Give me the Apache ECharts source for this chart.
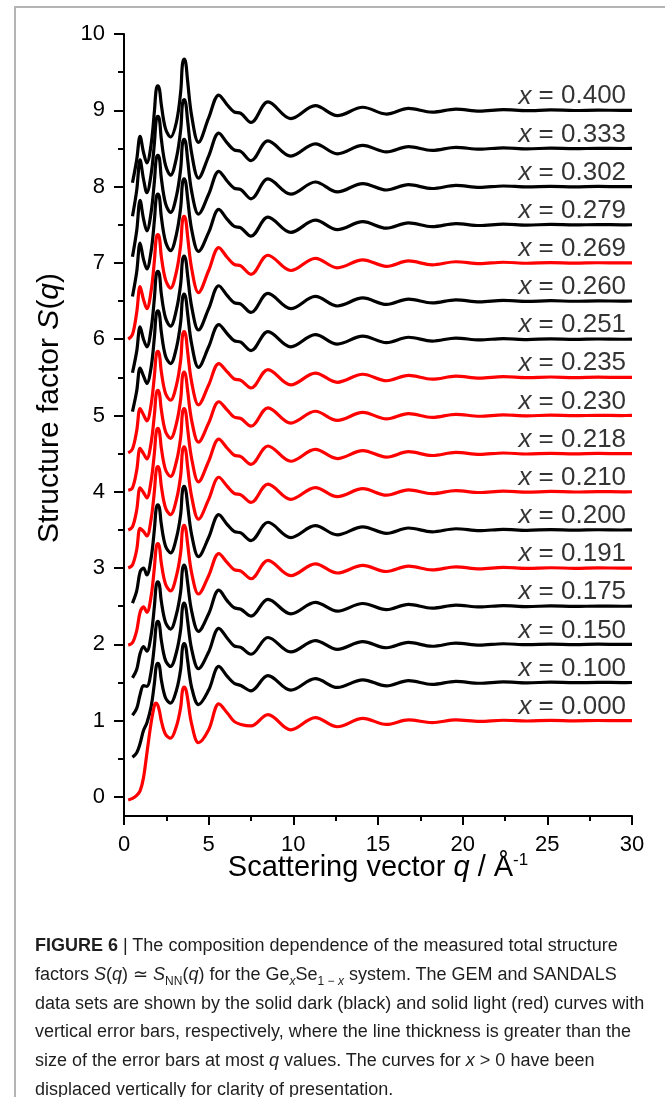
<!DOCTYPE html>
<html>
<head>
<meta charset="utf-8">
<script src="https://cdn.jsdelivr.net/npm/echarts@6/dist/echarts.min.js"></script>
<style>
html, body { margin: 0; padding: 0; background: #fff; }
#wrap { position: relative; width: 665px; height: 1097px; overflow: hidden; }
#frame { position: absolute; left: 14px; top: 6px; width: 700px; height: 1200px; border-left: 2px solid #b4b4b4; border-top: 2px solid #b4b4b4; }
#chart { position: absolute; left: 0; top: 0; width: 665px; height: 1097px; }
#caption { position: absolute; left: 35px; top: 931px; font-family: 'Liberation Sans', Arial, sans-serif; font-size: 18px; color: #1e1e1e; line-height: 28.8px; white-space: nowrap; }
#caption sub { font-size: 12px; line-height: 0; }
</style>
</head>
<body>
<div id="wrap">
  <div id="frame"></div>
  <div id="chart"></div>
  <div id="caption">
    <div><b>FIGURE 6</b> | The composition dependence of the measured total structure</div>
    <div>factors <i>S</i>(<i>q</i>) &#8771; <i>S</i><sub>NN</sub>(<i>q</i>) for the Ge<sub><i>x</i></sub>Se<sub>1 &#8722; <i>x</i></sub> system. The GEM and SANDALS</div>
    <div>data sets are shown by the solid dark (black) and solid light (red) curves with</div>
    <div>vertical error bars, respectively, where the line thickness is greater than the</div>
    <div>size of the error bars at most <i>q</i> values. The curves for <i>x</i> &gt; 0 have been</div>
    <div>displaced vertically for clarity of presentation.</div>
  </div>
</div>
<script>
// scattering vector grid (1/Å) shared by all curves
var q = [0.25, 0.5, 0.75, 0.95, 1.15, 1.35, 1.6, 1.8, 1.9, 2.0, 2.1, 2.2, 2.45, 2.75, 3.1, 3.35, 3.45, 3.55, 3.65, 3.75,
         4.0, 4.4, 5.0, 5.6, 6.1, 6.5, 6.9, 7.5, 8.5, 9.85, 11.3, 12.6, 14.1, 15.5, 16.8, 18.2, 19.6, 21.0, 22.4, 23.8,
         25.2, 26.6, 28.0, 29.4, 30.0];

// composition labels, top to bottom
var compositions = ['0.400', '0.333', '0.302', '0.279', '0.269', '0.260', '0.251', '0.235', '0.230',
                    '0.218', '0.210', '0.200', '0.191', '0.175', '0.150', '0.100', '0.000'];
// vertical displacement of each curve
var offsets = [8, 7.5, 7, 6.5, 6, 5.5, 5, 4.5, 4, 3.5, 3, 2.5, 2, 1.5, 1, 0.5, 0];
// GEM (dark) or SANDALS (light) data set
var dataSet = ['GEM', 'GEM', 'GEM', 'GEM', 'SANDALS', 'GEM', 'GEM', 'SANDALS', 'SANDALS',
               'SANDALS', 'SANDALS', 'GEM', 'SANDALS', 'GEM', 'GEM', 'GEM', 'SANDALS'];

// S(q) for each composition (before displacement)
var s400 = [null, 0.05, 0.35, 0.66, 0.45, 0.31, 0.55, 1.0, 1.27, 1.32, 1.27, 1.08, 0.76, 0.65, 0.85, 1.25, 1.6, 1.67, 1.62, 1.4, 0.92, 0.58, 0.9, 1.2, 1.07, 0.98, 0.96, 0.84, 1.11, 0.89, 1.06, 0.93, 1.04, 0.95, 1.025, 0.975, 1.015, 0.988, 1.008, 0.995, 1.005, 0.997, 1.002, 0.999, 1.0];
var s333 = [null, 0.11, 0.45, 0.85, 0.6, 0.42, 0.66, 1.08, 1.37, 1.42, 1.37, 1.13, 0.78, 0.65, 0.88, 1.25, 1.58, 1.64, 1.59, 1.38, 0.93, 0.61, 0.9, 1.2, 1.07, 0.98, 0.96, 0.84, 1.1, 0.9, 1.06, 0.93, 1.04, 0.955, 1.025, 0.975, 1.015, 0.99, 1.008, 0.995, 1.004, 0.997, 1.002, 0.999, 1.0];
var s302 = [null, 0.08, 0.42, 0.82, 0.58, 0.42, 0.66, 1.08, 1.36, 1.41, 1.36, 1.12, 0.78, 0.66, 0.88, 1.24, 1.56, 1.62, 1.57, 1.37, 0.93, 0.64, 0.9, 1.2, 1.07, 0.98, 0.96, 0.84, 1.1, 0.9, 1.06, 0.93, 1.04, 0.955, 1.025, 0.975, 1.015, 0.99, 1.008, 0.995, 1.004, 0.997, 1.002, 0.999, 1.0];
var s279 = [null, 0.06, 0.38, 0.76, 0.55, 0.42, 0.65, 1.07, 1.35, 1.40, 1.35, 1.11, 0.78, 0.66, 0.88, 1.23, 1.54, 1.60, 1.55, 1.36, 0.93, 0.65, 0.9, 1.2, 1.07, 0.98, 0.96, 0.85, 1.1, 0.9, 1.06, 0.935, 1.04, 0.955, 1.025, 0.975, 1.015, 0.99, 1.008, 0.995, 1.004, 0.997, 1.002, 0.999, 1.0];
var s269 = [0.0, 0.06, 0.35, 0.69, 0.52, 0.4, 0.63, 1.04, 1.32, 1.37, 1.32, 1.09, 0.78, 0.67, 0.89, 1.24, 1.55, 1.61, 1.56, 1.36, 0.92, 0.61, 0.9, 1.2, 1.07, 0.98, 0.96, 0.85, 1.1, 0.9, 1.06, 0.935, 1.04, 0.955, 1.025, 0.975, 1.015, 0.99, 1.008, 0.995, 1.004, 0.997, 1.002, 0.999, 1.0];
var s260 = [null, 0.06, 0.34, 0.66, 0.5, 0.4, 0.63, 1.05, 1.34, 1.39, 1.34, 1.1, 0.78, 0.67, 0.89, 1.23, 1.53, 1.59, 1.54, 1.35, 0.92, 0.62, 0.9, 1.2, 1.07, 0.98, 0.96, 0.85, 1.1, 0.9, 1.06, 0.935, 1.04, 0.955, 1.025, 0.975, 1.015, 0.99, 1.008, 0.995, 1.004, 0.997, 1.002, 0.999, 1.0];
var s251 = [null, 0.05, 0.32, 0.62, 0.52, 0.42, 0.63, 1.04, 1.32, 1.37, 1.32, 1.1, 0.78, 0.68, 0.89, 1.23, 1.53, 1.59, 1.54, 1.35, 0.93, 0.63, 0.9, 1.19, 1.07, 0.98, 0.96, 0.85, 1.1, 0.9, 1.06, 0.935, 1.04, 0.955, 1.025, 0.975, 1.015, 0.99, 1.008, 0.995, 1.004, 0.997, 1.002, 0.999, 1.0];
var s235 = [0.01, 0.06, 0.3, 0.59, 0.51, 0.43, 0.64, 1.03, 1.29, 1.34, 1.29, 1.08, 0.79, 0.7, 0.9, 1.23, 1.54, 1.6, 1.55, 1.35, 0.93, 0.64, 0.9, 1.18, 1.07, 0.98, 0.96, 0.86, 1.1, 0.9, 1.055, 0.935, 1.04, 0.955, 1.025, 0.975, 1.015, 0.99, 1.008, 0.995, 1.004, 0.997, 1.002, 0.999, 1.0];
var s230 = [0.02, 0.05, 0.28, 0.57, 0.5, 0.43, 0.64, 1.02, 1.28, 1.33, 1.28, 1.08, 0.79, 0.7, 0.9, 1.22, 1.51, 1.57, 1.52, 1.34, 0.93, 0.65, 0.9, 1.18, 1.07, 0.98, 0.96, 0.86, 1.1, 0.9, 1.055, 0.935, 1.04, 0.955, 1.025, 0.975, 1.015, 0.99, 1.008, 0.995, 1.004, 0.997, 1.002, 0.999, 1.0];
var s218 = [0.0, 0.04, 0.26, 0.55, 0.49, 0.42, 0.64, 1.02, 1.28, 1.33, 1.28, 1.08, 0.79, 0.7, 0.9, 1.22, 1.53, 1.59, 1.54, 1.34, 0.93, 0.63, 0.9, 1.19, 1.07, 0.98, 0.96, 0.86, 1.1, 0.9, 1.055, 0.935, 1.04, 0.955, 1.025, 0.975, 1.015, 0.99, 1.008, 0.995, 1.004, 0.997, 1.002, 0.999, 1.0];
var s210 = [0.0, 0.04, 0.24, 0.52, 0.48, 0.42, 0.64, 1.02, 1.28, 1.33, 1.28, 1.08, 0.79, 0.7, 0.9, 1.22, 1.53, 1.59, 1.54, 1.34, 0.93, 0.64, 0.9, 1.19, 1.07, 0.98, 0.96, 0.86, 1.1, 0.9, 1.055, 0.935, 1.04, 0.955, 1.025, 0.975, 1.015, 0.99, 1.008, 0.995, 1.004, 0.997, 1.002, 0.999, 1.0];
var s200 = [null, 0.04, 0.2, 0.45, 0.5, 0.41, 0.63, 1.02, 1.28, 1.33, 1.28, 1.08, 0.79, 0.7, 0.9, 1.21, 1.51, 1.57, 1.52, 1.34, 0.93, 0.65, 0.9, 1.2, 1.07, 0.98, 0.96, 0.86, 1.1, 0.9, 1.055, 0.935, 1.04, 0.955, 1.025, 0.975, 1.015, 0.99, 1.008, 0.995, 1.004, 0.997, 1.002, 0.999, 1.0];
var s191 = [-0.01, 0.02, 0.18, 0.42, 0.49, 0.42, 0.63, 1.02, 1.27, 1.32, 1.27, 1.07, 0.79, 0.7, 0.9, 1.21, 1.5, 1.56, 1.51, 1.33, 0.93, 0.66, 0.9, 1.19, 1.07, 0.98, 0.96, 0.86, 1.1, 0.9, 1.055, 0.935, 1.035, 0.955, 1.025, 0.975, 1.015, 0.99, 1.008, 0.995, 1.004, 0.997, 1.002, 0.999, 1.0];
var s175 = [null, 0.06, 0.17, 0.38, 0.47, 0.41, 0.62, 1.01, 1.27, 1.32, 1.27, 1.07, 0.79, 0.7, 0.9, 1.2, 1.48, 1.54, 1.49, 1.32, 0.93, 0.67, 0.9, 1.21, 1.07, 0.98, 0.96, 0.87, 1.09, 0.9, 1.05, 0.935, 1.035, 0.955, 1.025, 0.975, 1.015, 0.99, 1.008, 0.995, 1.004, 0.997, 1.002, 0.999, 1.0];
var s150 = [null, 0.07, 0.16, 0.34, 0.46, 0.45, 0.64, 1.0, 1.25, 1.3, 1.25, 1.06, 0.79, 0.71, 0.9, 1.2, 1.48, 1.54, 1.49, 1.32, 0.93, 0.68, 0.9, 1.21, 1.08, 0.98, 0.96, 0.87, 1.09, 0.9, 1.05, 0.935, 1.035, 0.955, 1.025, 0.975, 1.015, 0.99, 1.008, 0.995, 1.004, 0.997, 1.002, 0.999, 1.0];
var s100 = [null, 0.02, 0.08, 0.2, 0.37, 0.47, 0.68, 1.0, 1.21, 1.25, 1.21, 1.04, 0.8, 0.73, 0.9, 1.18, 1.45, 1.51, 1.47, 1.3, 0.93, 0.71, 0.9, 1.21, 1.08, 0.99, 0.96, 0.89, 1.09, 0.9, 1.05, 0.935, 1.035, 0.955, 1.025, 0.975, 1.015, 0.99, 1.008, 0.995, 1.004, 0.997, 1.002, 0.999, 1.0];
var s000 = [-0.04, -0.02, 0.02, 0.08, 0.25, 0.57, 0.97, 1.2, 1.23, 1.2, 1.12, 1.0, 0.82, 0.77, 0.93, 1.18, 1.39, 1.44, 1.41, 1.3, 0.95, 0.71, 0.88, 1.22, 1.1, 0.99, 0.95, 0.93, 1.08, 0.88, 1.04, 0.92, 1.03, 0.95, 1.01, 0.975, 1.01, 0.99, 1.005, 0.995, 1.003, 0.998, 1.002, 0.999, 1.0];

var curves = [s400, s333, s302, s279, s269, s260, s251, s235, s230, s218, s210, s200, s191, s175, s150, s100, s000];

var yMajor = [0, 1, 2, 3, 4, 5, 6, 7, 8, 9, 10];
var yMinor = [0.5, 1.5, 2.5, 3.5, 4.5, 5.5, 6.5, 7.5, 8.5, 9.5];

var FONT = "'Liberation Sans', Arial, sans-serif";
var LABEL_Q = 29.65;

var chart = echarts.init(document.getElementById('chart'), null, { renderer: 'canvas' });

var series = [];
for (var c = 0; c < curves.length; c++) {
    var pts = [];
    for (var i = 0; i < q.length; i++) {
        if (curves[c][i] === null) continue;
        pts.push([q[i], curves[c][i] + offsets[c]]);
    }
    series.push({
        name: 'x = ' + compositions[c],
        type: 'line',
        data: pts,
        showSymbol: false,
        symbol: 'none',
        smooth: 0.35,
        lineStyle: { color: dataSet[c] === 'GEM' ? '#000' : '#ff0000', width: 3.2 },
        silent: true
    });
}

var labelPts = [];
for (var k = 0; k < compositions.length; k++) {
    labelPts.push([LABEL_Q, offsets[k] + 1]);
}
series.push({
    type: 'scatter',
    data: labelPts,
    symbolSize: 0,
    silent: true,
    label: {
        show: true,
        position: 'top',
        align: 'right',
        distance: 1,
        formatter: function (p) {
            return '{i|x}{n| = ' + compositions[p.dataIndex] + '}';
        },
        rich: {
            i: { fontSize: 26, fontStyle: 'italic', fontFamily: FONT, color: '#000' },
            n: { fontSize: 26, fontFamily: FONT, color: '#000' }
        }
    }
});

var option = {
    animation: false,
    backgroundColor: 'transparent',
    grid: { left: 124, right: 33, top: 34, bottom: 281, outerBoundsMode: 'none', containLabel: false },
    xAxis: {
        type: 'value',
        min: 0, max: 30, interval: 5,
        name: '{n|Scattering vector }{i|q}{n| / Å}{s|-1}',
        nameLocation: 'middle',
        nameGap: 36,
        nameMoveOverlap: false,
        nameTextStyle: {
            color: '#000',
            rich: {
                n: { fontSize: 29, fontFamily: FONT, color: '#000' },
                i: { fontSize: 29, fontFamily: FONT, fontStyle: 'italic', color: '#000' },
                s: { fontSize: 17, fontFamily: FONT, color: '#000', verticalAlign: 'top', padding: [0, 0, 14, 0] }
            }
        },
        axisLine: { show: true, onZero: false, lineStyle: { color: '#000', width: 2 } },
        axisTick: { show: true, inside: false, length: 9, lineStyle: { color: '#000', width: 2 } },
        minorTick: { show: true, splitNumber: 2, length: 5, lineStyle: { color: '#000', width: 2 } },
        axisLabel: { fontSize: 22, fontFamily: FONT, color: '#000', margin: 18 },
        splitLine: { show: false },
        minorSplitLine: { show: false }
    },
    yAxis: [{
        type: 'value',
        min: -0.25, max: 10,
        position: 'left',
        axisLine: { show: true, onZero: false, lineStyle: { color: '#000', width: 2 } },
        axisTick: { show: true, inside: false, length: 10, customValues: yMajor, lineStyle: { color: '#000', width: 2 } },
        axisLabel: { show: true, customValues: yMajor, fontSize: 22, fontFamily: FONT, color: '#000', margin: 19 },
        splitLine: { show: false }
    }, {
        type: 'value',
        min: -0.25, max: 10,
        position: 'left',
        offset: 0,
        axisLine: { show: false, onZero: false },
        axisTick: { show: true, inside: false, length: 6, customValues: yMinor, lineStyle: { color: '#000', width: 2 } },
        axisLabel: { show: false },
        splitLine: { show: false }
    }],
    graphic: [{
        type: 'text',
        x: 50,
        y: 408,
        rotation: Math.PI / 2,
        style: {
            text: '{n|Structure factor }{i|S}{n|(}{i|q}{n|)}',
            align: 'center',
            verticalAlign: 'middle',
            rich: {
                n: { fontSize: 30, fontFamily: FONT, fill: '#000' },
                i: { fontSize: 30, fontFamily: FONT, fontStyle: 'italic', fill: '#000' }
            }
        }
    }],
    series: series
};

chart.setOption(option);
</script>
</body>
</html>
